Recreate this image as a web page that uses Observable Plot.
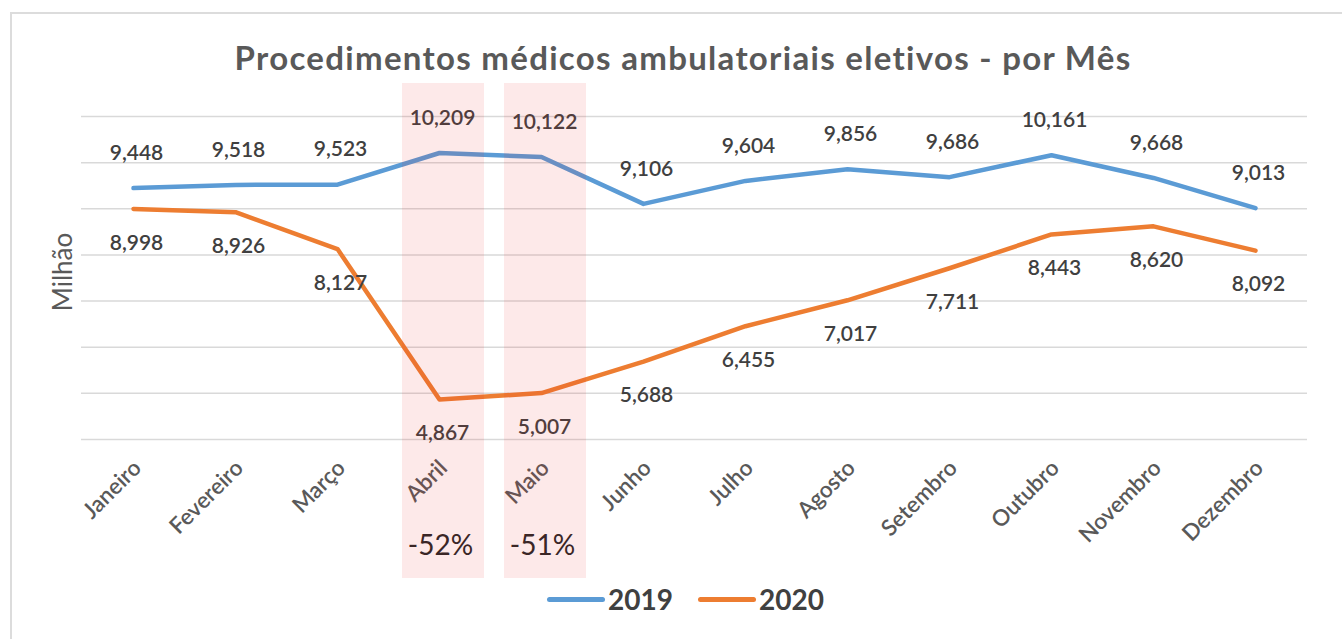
<!DOCTYPE html>
<html><head><meta charset="utf-8">
<script src="https://cdn.jsdelivr.net/npm/d3@7"></script>
<script src="https://cdn.jsdelivr.net/npm/@observablehq/plot@0.6"></script>
<style>
body{margin:0;background:#fff;font-family:Lato,"Open Sans",sans-serif;}
#wrap{position:relative;width:1342px;height:639px;overflow:hidden;}
#frame{position:absolute;left:10px;top:12px;width:1400px;height:700px;border:2px solid #dcdcdc;box-sizing:border-box;}
#title{position:absolute;left:0;top:41px;width:1366px;text-align:center;font-weight:bold;font-size:33px;line-height:33px;letter-spacing:1.3px;color:#595959;white-space:nowrap;}
#chart{position:absolute;left:0;top:0;}
#legend{position:absolute;top:584px;left:547px;display:flex;align-items:center;font-weight:bold;font-size:28px;line-height:30px;color:#404040;}
#legend .sw{display:inline-block;width:58px;height:5px;border-radius:3px;margin-right:3px;}
#legend .item{display:flex;align-items:center;margin-right:25px;}
</style>
</head><body>
<div id="wrap">
  <div id="frame"></div>
  <div id="chart"></div>
  <div id="title">Procedimentos médicos ambulatoriais eletivos - por Mês</div>
  <div id="legend"></div>
</div>
<script>
const months = ["Janeiro","Fevereiro","Março","Abril","Maio","Junho","Julho","Agosto","Setembro","Outubro","Novembro","Dezembro"];
const values2019 = [9.448, 9.518, 9.523, 10.209, 10.122, 9.106, 9.604, 9.856, 9.686, 10.161, 9.668, 9.013];
const values2020 = [8.998, 8.926, 8.127, 4.867, 5.007, 5.688, 6.455, 7.017, 7.711, 8.443, 8.620, 8.092];
const seriesNames = ["2019", "2020"];
const seriesColors = ["#5B9BD5", "#ED7D31"];
const yTicks = [4, 5, 6, 7, 8, 9, 10, 11];
const highlightMonths = ["Abril", "Maio"];
const highlightLabels = ["-52%", "-51%"];
const yLabel = "Milhão";

const fmt = v => d3.format(".3f")(v).replace(".", ",");
const rows2019 = months.map((m, i) => ({month: m, value: values2019[i], series: "2019"}));
const rows2020 = months.map((m, i) => ({month: m, value: values2020[i], series: "2020"}));
const highlights = highlightMonths.map((m, i) => ({month: m, label: highlightLabels[i]}));

const chart = Plot.plot({
  width: 1342,
  height: 639,
  marginTop: 116,
  marginBottom: 200,
  marginLeft: 81,
  marginRight: 35,
  style: {background: "transparent", overflow: "visible", fontFamily: "Lato, 'Open Sans', sans-serif"},
  x: {type: "band", domain: months, padding: 0, axis: null},
  y: {domain: [4, 11], axis: null},
  color: {domain: seriesNames, range: seriesColors},
  marks: [
    Plot.ruleY(yTicks, {stroke: "#d9d9d9", strokeWidth: 1.5}),
    Plot.line([...rows2019, ...rows2020], {x: "month", y: "value", stroke: "series", strokeWidth: 4.5, z: "series"}),
    Plot.text(rows2019, {x: "month", y: "value", text: d => fmt(d.value), dy: -35, dx: 3, fontSize: 21, fontWeight: 600, fill: "#404040"}),
    Plot.text(rows2020, {x: "month", y: "value", text: d => fmt(d.value), dy: 34, dx: 3, fontSize: 21, fontWeight: 600, fill: "#404040"}),
    Plot.text(months, {x: d => d, text: d => d, frameAnchor: "bottom", rotate: -45, textAnchor: "end", dx: 9, dy: 30, fontSize: 22.5, fontWeight: 600, fill: "#595959"}),
    Plot.text([yLabel], {text: d => d, frameAnchor: "left", textAnchor: "middle", rotate: -90, dx: -18, dy: -6, fontSize: 26, fill: "#595959"}),
    Plot.text(highlights, {x: "month", text: "label", frameAnchor: "bottom", dy: 115, dx: 1, fontSize: 28, fill: "#262626"}),
    Plot.cell(highlights, {x: "month", fill: "rgb(235,35,35)", fillOpacity: 0.1, insetTop: -33, insetBottom: -139, insetLeft: 14, insetRight: 6})
  ]
});
document.getElementById("chart").appendChild(chart);

const legend = document.getElementById("legend");
seriesNames.forEach((s, i) => {
  const item = document.createElement("div");
  item.className = "item";
  const sw = document.createElement("span");
  sw.className = "sw";
  sw.style.background = seriesColors[i];
  const t = document.createElement("span");
  t.textContent = s;
  item.appendChild(sw);
  item.appendChild(t);
  legend.appendChild(item);
});
</script>
</body></html>
